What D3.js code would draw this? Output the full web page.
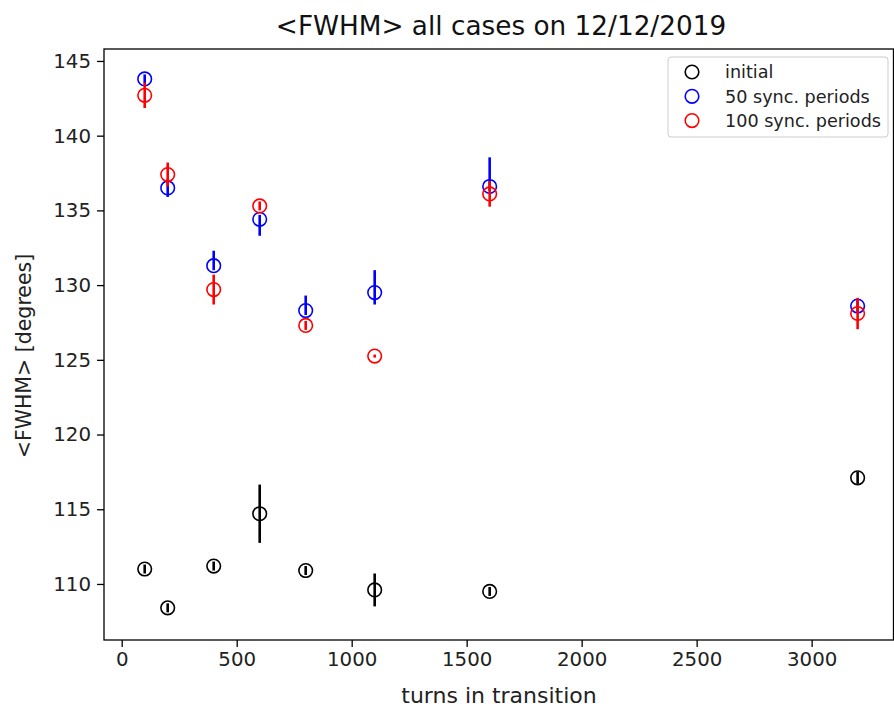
<!DOCTYPE html>
<html>
<head>
<meta charset="utf-8">
<script src="https://cdn.jsdelivr.net/npm/d3@7"></script>
<style>
  html, body { margin: 0; padding: 0; background: #fff; }
  svg { display: block; font-family: "DejaVu Sans", sans-serif; }
</style>
</head>
<body>
<svg id="chart" width="894" height="710"></svg>
<script>
// ---- data ----
const turns = [100, 200, 400, 600, 800, 1100, 1600, 3200];
const initialVals = [111.0, 108.4, 111.2, 114.7, 110.9, 109.6, 109.5, 117.1];
const initialErr  = [0.3, 0.3, 0.3, 1.95, 0.3, 1.1, 0.3, 0.4];
const sync50Vals  = [143.8, 136.5, 131.3, 134.4, 128.3, 129.5, 136.6, 128.6];
const sync50ErrUp = [0.3, 0.6, 1.0, 0.3, 1.0, 1.5, 1.95, 0.4];
const sync50ErrDn = [0.3, 0.6, 0.3, 1.1, 0.3, 0.8, 0.3, 0.4];
const sync100Vals = [142.7, 137.4, 129.7, 135.3, 127.3, 125.25, 136.1, 128.1];
const sync100Err  = [0.85, 0.8, 1.0, 0.3, 0.3, 0.1, 0.85, 1.05];
const seriesNames = ["initial", "50 sync. periods", "100 sync. periods"];
const seriesColors = ["#000000", "#0000ff", "#ff0000"];
const xTicks = [0, 500, 1000, 1500, 2000, 2500, 3000];
const yTicks = [110, 115, 120, 125, 130, 135, 140, 145];
const titleText = "<FWHM> all cases on 12/12/2019";
const xLabelText = "turns in transition";
const yLabelText = "<FWHM> [degrees]";

const series = [
  { name: seriesNames[0], color: seriesColors[0], vals: initialVals, up: initialErr, dn: initialErr },
  { name: seriesNames[1], color: seriesColors[1], vals: sync50Vals, up: sync50ErrUp, dn: sync50ErrDn },
  { name: seriesNames[2], color: seriesColors[2], vals: sync100Vals, up: sync100Err, dn: sync100Err }
];

// ---- layout ----
const svg = d3.select("#chart");
const pL = 104, pR = 893.5, pT = 49, pB = 640;
const x = d3.scaleLinear().domain([-77, 3356]).range([pL, pR]);
const y = d3.scaleLinear().domain([106.25, 145.8]).range([pB, pT]);

// axes
const xAxis = d3.axisBottom(x).tickValues(xTicks).tickSize(7).tickPadding(5).tickFormat(d3.format("d"));
const yAxis = d3.axisLeft(y).tickValues(yTicks).tickSize(7).tickPadding(6).tickFormat(d3.format("d"));

const gx = svg.append("g").attr("transform", `translate(0,${pB})`).call(xAxis);
const gy = svg.append("g").attr("transform", `translate(${pL},0)`).call(yAxis);
[gx, gy].forEach(g => {
  g.select(".domain").remove();
  g.selectAll(".tick line").attr("stroke", "#000").attr("stroke-width", 1.3);
  g.selectAll(".tick text").attr("fill", "#222").style("font-size", "19.8px").style("font-family", "DejaVu Sans");
});

// frame
svg.append("rect").attr("x", pL).attr("y", pT)
  .attr("width", pR - pL).attr("height", pB - pT)
  .attr("fill", "none").attr("stroke", "#000").attr("stroke-width", 1.3);

// data
series.forEach(s => {
  const g = svg.append("g");
  g.selectAll("line.err").data(turns).enter().append("line")
    .attr("x1", d => x(d)).attr("x2", d => x(d))
    .attr("y1", (d, i) => y(s.vals[i] + s.up[i]))
    .attr("y2", (d, i) => y(s.vals[i] - s.dn[i]))
    .attr("stroke", s.color).attr("stroke-width", 2.6);
  g.selectAll("circle").data(turns).enter().append("circle")
    .attr("cx", d => x(d)).attr("cy", (d, i) => y(s.vals[i]))
    .attr("r", 6.8).attr("fill", "none")
    .attr("stroke", s.color).attr("stroke-width", 1.6);
});

// title & labels
svg.append("text").attr("x", 501).attr("y", 35)
  .attr("text-anchor", "middle").style("font-size", "26.3px").attr("fill", "#111").text(titleText);
svg.append("text").attr("x", 499).attr("y", 703)
  .attr("text-anchor", "middle").style("font-size", "22px").attr("fill", "#222").text(xLabelText);
svg.append("text").attr("transform", `translate(31,356) rotate(-90)`)
  .attr("text-anchor", "middle").style("font-size", "20.5px").attr("fill", "#222").text(yLabelText);

// legend
const lg = svg.append("g");
lg.append("rect").attr("x", 668).attr("y", 57).attr("width", 220).attr("height", 80)
  .attr("rx", 3).attr("fill", "#fff").attr("fill-opacity", 0.8)
  .attr("stroke", "#ccc").attr("stroke-width", 1);
series.forEach((s, i) => {
  const yy = 72 + i * 24.3;
  lg.append("circle").attr("cx", 692).attr("cy", yy).attr("r", 6.8)
    .attr("fill", "none").attr("stroke", s.color).attr("stroke-width", 1.6);
  lg.append("text").attr("x", 725).attr("y", yy + 6.2)
    .style("font-size", "17.6px").attr("fill", "#222").text(s.name);
});
</script>
</body>
</html>
